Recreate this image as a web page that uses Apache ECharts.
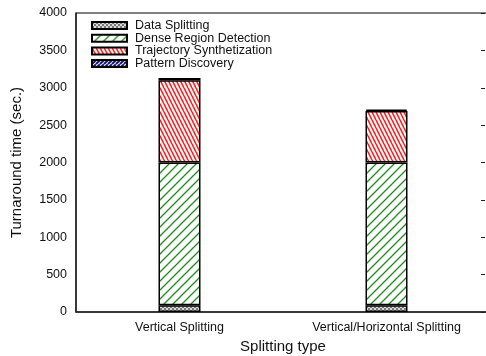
<!DOCTYPE html>
<html>
<head>
<meta charset="utf-8">
<script src="https://cdn.jsdelivr.net/npm/echarts@6/dist/echarts.min.js"></script>
<style>html,body{margin:0;padding:0;background:#fff}#c{width:486px;height:356px}</style>
</head>
<body>
<div id="c"></div>
<script>
var categories = ['Vertical Splitting', 'Vertical/Horizontal Splitting'];
var seriesNames = ['Data Splitting', 'Dense Region Detection', 'Trajectory Synthetization', 'Pattern Discovery'];
var dataSplitting = [90, 90];
var denseRegion = [1910, 1910];
var trajectorySynth = [1100, 690];
var patternDiscovery = [30, 20];
var yTicks = [0, 500, 1000, 1500, 2000, 2500, 3000, 3500, 4000];

function makePattern(kind) {
  var c = document.createElement('canvas');
  var ctx = c.getContext('2d');
  if (kind === 'check') {
    c.width = 4; c.height = 4;
    ctx.fillStyle = '#d8d8d8'; ctx.fillRect(0, 0, 4, 4);
    ctx.fillStyle = '#7a7a7a';
    ctx.fillRect(0, 0, 2, 2); ctx.fillRect(2, 2, 2, 2);
  } else if (kind === 'green') {
    c.width = 9; c.height = 9;
    ctx.fillStyle = '#fff'; ctx.fillRect(0, 0, 9, 9);
    ctx.strokeStyle = '#1e8c1e'; ctx.lineWidth = 1.3;
    ctx.beginPath();
    ctx.moveTo(-1, 10); ctx.lineTo(10, -1);
    ctx.moveTo(-1, 1); ctx.lineTo(1, -1);
    ctx.moveTo(8, 10); ctx.lineTo(10, 8);
    ctx.stroke();
  } else if (kind === 'red') {
    c.width = 4; c.height = 8;
    ctx.fillStyle = '#fff'; ctx.fillRect(0, 0, 4, 8);
    ctx.strokeStyle = '#ff2020'; ctx.lineWidth = 1.6;
    ctx.beginPath();
    ctx.moveTo(0, 0); ctx.lineTo(4, 8);
    ctx.moveTo(-4, 0); ctx.lineTo(0, 8);
    ctx.moveTo(4, 0); ctx.lineTo(8, 8);
    ctx.stroke();
  } else if (kind === 'blue') {
    c.width = 4; c.height = 4;
    ctx.fillStyle = '#fff'; ctx.fillRect(0, 0, 4, 4);
    ctx.strokeStyle = '#14146e'; ctx.lineWidth = 2;
    ctx.beginPath();
    ctx.moveTo(0, 4); ctx.lineTo(4, 0);
    ctx.moveTo(-4, 4); ctx.lineTo(0, 0);
    ctx.moveTo(4, 4); ctx.lineTo(8, 0);
    ctx.stroke();
  }
  return { image: c, repeat: 'repeat' };
}

var patterns = [makePattern('check'), makePattern('green'), makePattern('red'), makePattern('blue')];
var values = [dataSplitting, denseRegion, trajectorySynth, patternDiscovery];

var chart = echarts.init(document.getElementById('c'), null, { renderer: 'canvas' });
var fontFam = '"Liberation Sans", Arial, sans-serif';

chart.setOption({
  animation: false,
  backgroundColor: '#fff',
  grid: [
    { left: 76, right: -4, top: 13, bottom: 44, show: true, borderColor: '#000', borderWidth: 1, containLabel: false, outerBoundsMode: 'none' },
    { left: 76, right: 1, top: 13, bottom: 44, containLabel: false, outerBoundsMode: 'none' }
  ],
  legend: {
    orient: 'vertical', left: 91, top: 19, padding: 0,
    itemWidth: 35, itemHeight: 7, itemGap: -0.3,
    textStyle: { fontFamily: fontFam, fontSize: 12.5, lineHeight: 12, color: '#111', padding: [0, 0, 0, 3] },
    data: seriesNames.map(function (n) { return { name: n, icon: 'rect' }; })
  },
  xAxis: [{
    type: 'category', data: categories, gridIndex: 0,
    name: 'Splitting type', nameLocation: 'middle', nameGap: 25,
    nameTextStyle: { fontFamily: fontFam, fontSize: 15, color: '#111' },
    axisLine: { lineStyle: { color: '#222', width: 1.5 } },
    axisTick: { show: false },
    axisLabel: { fontFamily: fontFam, fontSize: 12.5, color: '#111', margin: 9 }
  }, {
    type: 'category', data: categories, gridIndex: 1, show: false
  }],
  yAxis: [{
    type: 'value', gridIndex: 0, min: yTicks[0], max: yTicks[yTicks.length - 1], interval: 500,
    name: 'Turnaround time (sec.)', nameLocation: 'middle', nameGap: 52,
    nameTextStyle: { fontFamily: fontFam, fontSize: 15, color: '#111' },
    axisLine: { show: true, lineStyle: { color: '#222', width: 1.5 } },
    axisTick: { show: false },
    splitLine: { show: false },
    axisLabel: { fontFamily: fontFam, fontSize: 12.5, color: '#111', margin: 9, formatter: function (v) { return String(v); } }
  }, {
    type: 'value', gridIndex: 1, position: 'right', min: yTicks[0], max: yTicks[yTicks.length - 1], interval: 500,
    axisLine: { show: false }, splitLine: { show: false }, axisLabel: { show: false },
    axisTick: { show: true, inside: true, length: 4, lineStyle: { color: '#222' } }
  }],
  series: seriesNames.map(function (n, i) {
    return {
      name: n, type: 'bar', stack: 'total', barWidth: 42,
      xAxisIndex: 0, yAxisIndex: 0,
      data: values[i],
      itemStyle: { color: patterns[i], borderColor: '#000', borderWidth: 1.5 }
    };
  })
});
</script>
</body>
</html>
